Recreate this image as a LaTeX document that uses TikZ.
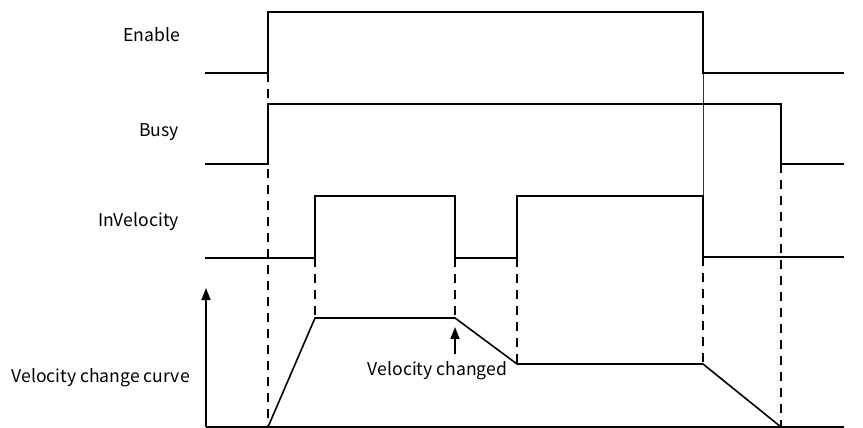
\documentclass[tikz,border=0pt]{standalone}
\usepackage{fontspec}
\setmainfont{Noto Sans CJK SC}
\usetikzlibrary{arrows.meta}
\begin{document}
\begin{tikzpicture}[x=1pt,y=-1pt,
  wave/.style={line width=1.6pt,line join=miter},
  guide/.style={line width=1.3pt,dash pattern=on 9pt off 7pt},
  thinline/.style={line width=0.8pt,black!80},
  lbl/.style={inner sep=0pt,font=\fontsize{17.6}{21}\selectfont},
  tip/.style={-{Triangle[length=12pt,width=9pt]},line width=1.6pt}]
\useasboundingbox (0,0) rectangle (863,428);
% key coordinates
\coordinate (e0) at (205,73);
\coordinate (e1) at (268,73);
\coordinate (e2) at (268,12);
\coordinate (e3) at (703,12);
\coordinate (e4) at (703,73);
\coordinate (e5) at (844,73);
\coordinate (b0) at (205,164);
\coordinate (b1) at (268,164);
\coordinate (b2) at (268,104);
\coordinate (b3) at (781,104);
\coordinate (b4) at (781,164);
\coordinate (b5) at (844,164);
\coordinate (i0) at (205,258);
\coordinate (i1) at (315,258);
\coordinate (i2) at (315,196);
\coordinate (i3) at (455,196);
\coordinate (i4) at (455,258);
\coordinate (i5) at (517,258);
\coordinate (i6) at (517,196);
\coordinate (i7) at (703,196);
\coordinate (i8) at (703,257);
\coordinate (i9) at (844,257);
\coordinate (o) at (206,427);
\coordinate (ytop) at (206,288);
\coordinate (xend) at (844,427);
\coordinate (v0) at (268,427);
\coordinate (v1) at (315,318);
\coordinate (v2) at (455,318);
\coordinate (v3) at (517,364);
\coordinate (v4) at (703,364);
\coordinate (v5) at (781,427);
\coordinate (atail) at (455,354);
\coordinate (ahead) at (455,327);
% labels
\node[lbl,anchor=base east] (lenable) at (180,42) {Enable};
\node[lbl,anchor=base east] (lbusy) at (179,136) {Busy};
\node[lbl,anchor=base east] (linv) at (179,226) {InVelocity};
\node[lbl,anchor=base east] (lcurve) at (190,382) {Velocity change curve};
\node[lbl,anchor=base] (lchg) at (437.5,375) {Velocity changed};
% guides
\draw[guide] (e1) -- (v0);
\draw[guide] (i1) -- (v1);
\draw[guide] (i4) -- (v2);
\draw[guide] (i5) -- (v3);
\draw[guide] (i8) -- (v4);
\draw[guide] (b4) -- (v5);
\draw[thinline] (e4) -- (i7);
% waves
\draw[wave] (e0) -- (e1) -- (e2) -- (e3) -- (e4) -- (e5);
\draw[wave] (b0) -- (b1) -- (b2) -- (b3) -- (b4) -- (b5);
\draw[wave] (i0) -- (i1) -- (i2) -- (i3) -- (i4) -- (i5) -- (i6) -- (i7) -- (i8) -- (i9);
\draw[wave] (o) -- (xend);
\draw[tip] (o) -- (ytop);
\draw[wave] (v0) -- (v1) -- (v2) -- (v3) -- (v4) -- (v5);
\draw[tip] (atail) -- (ahead);
\end{tikzpicture}
\end{document}
